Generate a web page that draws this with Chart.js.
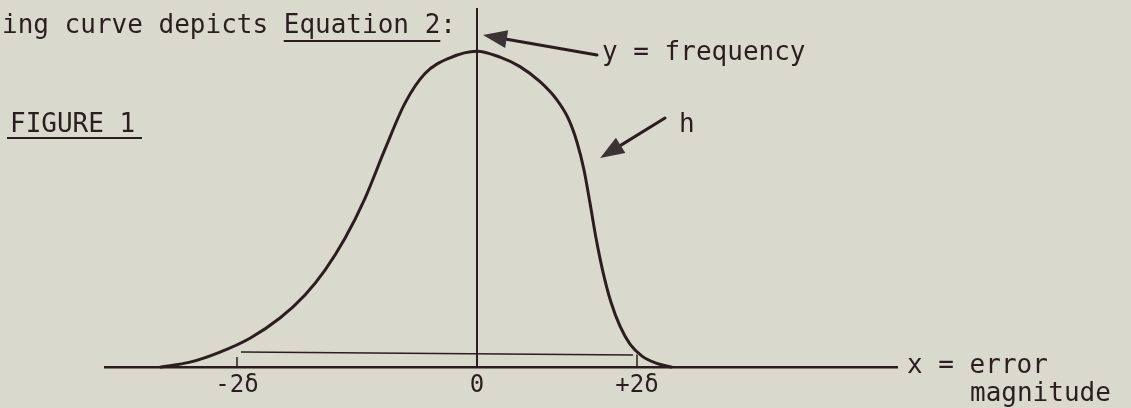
<!DOCTYPE html>
<html>
<head>
<meta charset="utf-8">
<script src="https://cdn.jsdelivr.net/npm/chart.js@4/dist/chart.umd.min.js"></script>
<style>
  html, body { margin: 0; padding: 0; background: #d9d9cd; }
  #wrap { width: 1131px; height: 408px; }
</style>
</head>
<body>
<div id="wrap"><canvas id="curveChart" width="1131" height="408"></canvas></div>
<script>
// Curve: x in arbitrary units (0 = peak), y = frequency (peak ~100)
const curveX = [-7.925, -7.175, -6.425, -5.675, -4.925, -4.3, -3.8, -3.3, -2.8, -2.3, -1.8, -1.3, -0.675, 0,
                0.575, 1.075, 1.575, 1.975, 2.275, 2.5, 2.675, 2.825, 2.975, 3.15, 3.35, 3.575, 3.825, 4.125, 4.475, 4.875];
const curveY = [0, 1.6, 4.8, 9.2, 15.6, 22.9, 30.8, 40.9, 53.6, 69.2, 83.8, 93.2, 98.2, 100.3,
                98.4, 95.4, 90.6, 85.2, 79.1, 71.4, 62.6, 52.1, 41.0, 30.2, 20.6, 13.0, 7.3, 3.5, 1.3, 0];

// the thin line drawn just above the axis between the two marks
const spanX = [-5.9, 3.9];
const spanY = [4.8, 3.9];

// axis marks
const tickValues = [-6, 0, 4];
const tickLabels = ['-2δ', '0', '+2δ'];
const tickHeights = [3.2, 0, 4.0];

const yTop = 114;

const ink = '#2a1e1f';
const mono = '"DejaVu Sans Mono", monospace';

const pts = (xs, ys) => xs.map((v, i) => ({ x: v, y: ys[i] }));

// short upright marks, separated by gaps
const tickMarks = [];
tickValues.forEach((v, i) => {
    if (tickHeights[i] > 0) {
        tickMarks.push({ x: v, y: 0 }, { x: v, y: tickHeights[i] }, { x: v, y: null });
    }
});

// arrows, in data units
const arrows = [
    { from: [3.0, 99.1], to: [0.15, 105.4] },
    { from: [4.7, 79.1], to: [3.08, 66.4] }
];

function drawArrow(ctx, x1, y1, x2, y2) {
    const ang = Math.atan2(y2 - y1, x2 - x1);
    const len = 24, half = 9;
    const bx = x2 - Math.cos(ang) * len, by = y2 - Math.sin(ang) * len;
    ctx.lineWidth = 3;
    ctx.beginPath();
    ctx.moveTo(x1, y1);
    ctx.lineTo(bx, by);
    ctx.stroke();
    ctx.beginPath();
    ctx.moveTo(x2, y2);
    ctx.lineTo(bx - Math.sin(ang) * half, by + Math.cos(ang) * half);
    ctx.lineTo(bx + Math.sin(ang) * half, by - Math.cos(ang) * half);
    ctx.closePath();
    ctx.fillStyle = '#3a3434';
    ctx.fill();
}

function underline(ctx, x1, x2, yy) {
    ctx.lineWidth = 2;
    ctx.beginPath();
    ctx.moveTo(x1, yy);
    ctx.lineTo(x2, yy);
    ctx.stroke();
}

const annotate = {
    id: 'annotate',
    afterDraw(chart) {
        const { ctx, scales: { x, y } } = chart;
        ctx.save();
        ctx.strokeStyle = ink;
        ctx.fillStyle = ink;
        ctx.font = '26px ' + mono;
        ctx.textBaseline = 'alphabetic';
        ctx.textAlign = 'left';

        const lead = 'ing curve depicts ';
        ctx.fillText(lead + 'Equation 2:', 2, 33);
        underline(ctx, 2 + ctx.measureText(lead).width, 2 + ctx.measureText(lead + 'Equation 2').width, 41);

        ctx.fillText('FIGURE 1', 10, 132);
        underline(ctx, 7, 142, 138);

        ctx.fillText('y = frequency', 602, 60);
        ctx.fillText('h', 679, 132);
        ctx.fillText('x = error', 907, 373);
        ctx.fillText('magnitude', 970, 401);

        ctx.lineCap = 'round';
        arrows.forEach(a => {
            ctx.strokeStyle = ink;
            drawArrow(ctx,
                x.getPixelForValue(a.from[0]), y.getPixelForValue(a.from[1]),
                x.getPixelForValue(a.to[0]), y.getPixelForValue(a.to[1]));
        });
        ctx.restore();
    }
};

new Chart(document.getElementById('curveChart'), {
    type: 'line',
    data: {
        datasets: [
            {
                label: 'frequency',
                data: pts(curveX, curveY),
                borderColor: ink,
                borderWidth: 3,
                pointRadius: 0,
                cubicInterpolationMode: 'monotone',
                clip: false
            },
            {
                label: 'y axis',
                data: [{ x: 0, y: 0 }, { x: 0, y: yTop }],
                borderColor: ink,
                borderWidth: 2,
                pointRadius: 0,
                clip: false
            },
            {
                label: 'span',
                data: pts(spanX, spanY),
                borderColor: ink,
                borderWidth: 1.5,
                pointRadius: 0,
                clip: false
            },
            {
                label: 'marks',
                data: tickMarks,
                borderColor: ink,
                borderWidth: 1.5,
                pointRadius: 0,
                spanGaps: false,
                clip: false
            }
        ]
    },
    options: {
        responsive: false,
        animation: false,
        layout: {
            padding: { left: 105, right: 234, top: 8, bottom: 4 }
        },
        plugins: {
            legend: { display: false },
            tooltip: { enabled: false }
        },
        scales: {
            x: {
                type: 'linear',
                min: -9.3,
                max: 10.5,
                grid: { display: false, drawTicks: false },
                border: { display: true, color: ink, width: 2.5 },
                afterBuildTicks: (scale) => {
                    scale.ticks = tickValues.map(v => ({ value: v }));
                },
                ticks: {
                    padding: 4,
                    maxRotation: 0,
                    autoSkip: false,
                    color: ink,
                    font: { family: mono, size: 24 },
                    callback: (value, index) => tickLabels[index]
                }
            },
            y: {
                display: false,
                min: 0,
                max: yTop
            }
        }
    },
    plugins: [annotate]
});
</script>
</body>
</html>
